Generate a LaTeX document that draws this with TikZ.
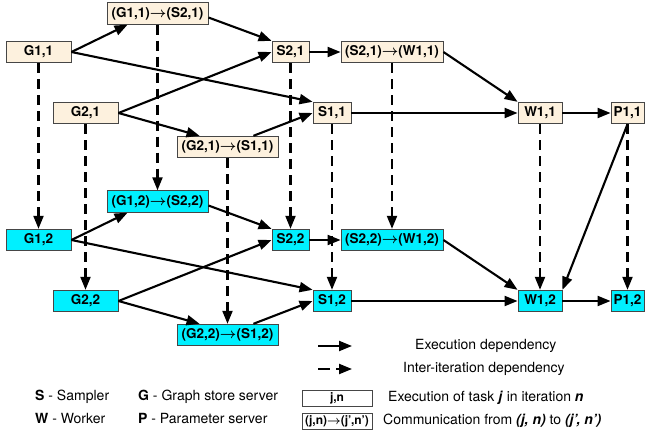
\documentclass[tikz,border=0pt]{standalone}
\usepackage{fontspec}
\setmainfont{TeX Gyre Heros}
\usetikzlibrary{arrows.meta}
\definecolor{cream}{RGB}{253,241,222}
\definecolor{aqua}{RGB}{0,240,255}
\definecolor{rim}{RGB}{70,70,70}

\begin{document}
\begin{tikzpicture}[x=1pt,y=-1pt]
    \tikzset{task/.style = {draw=rim,line width=0.9pt,inner sep=0pt,minimum height=21.5pt,font=\fontsize{13.5}{15}\selectfont\bfseries\boldmath},
      first/.style = {task,fill=cream}, second/.style = {task,fill=aqua},
      edge/.style = {line width=2.1pt,-{Triangle[length=13pt,width=10pt]}},
      iter/.style = {edge,dash pattern=on 10pt off 6pt},
      note/.style = {anchor=west,inner sep=0pt,font=\fontsize{14}{16}\selectfont},
      key/.style = {task,fill=white,minimum width=70pt,minimum height=16pt,font=\fontsize{12}{13}\selectfont\bfseries\boldmath}}
    \useasboundingbox (0,0) rectangle (645,438);
    \def\dy{188}
    % iteration 1
     \node[first,minimum width=65pt] (G11) at (38.5,52) {G1,1};
     \node[first,minimum width=65pt] (G21) at (85.5,113) {G2,1};
     \node[first,minimum width=101pt] (GS11) at (157.5,13.5) {(G1,1)$\rightarrow$(S2,1)};
     \node[first,minimum width=101pt] (GS21) at (227.5,147) {(G2,1)$\rightarrow$(S1,1)};
     \node[first,minimum width=37pt] (S21) at (290.5,52) {S2,1};
     \node[first,minimum width=38pt] (S11) at (332,113) {S1,1};
     \node[first,minimum width=102pt] (SW11) at (392,52) {(S2,1)$\rightarrow$(W1,1)};
     \node[first,minimum width=44pt] (W11) at (540,113) {W1,1};
     \node[first,minimum width=33pt] (P11) at (627.5,113) {P1,1};
    % iteration 2
     \node[second,minimum width=65pt] (G12) at (38.5,52+\dy) {G1,2};
     \node[second,minimum width=65pt] (G22) at (85.5,113+\dy) {G2,2};
     \node[second,minimum width=101pt] (GS12) at (157.5,13.5+\dy) {(G1,2)$\rightarrow$(S2,2)};
     \node[second,minimum width=101pt] (GS22) at (227.5,147+\dy) {(G2,2)$\rightarrow$(S1,2)};
     \node[second,minimum width=37pt] (S22) at (290.5,52+\dy) {S2,2};
     \node[second,minimum width=38pt] (S12) at (332,113+\dy) {S1,2};
     \node[second,minimum width=102pt] (SW12) at (392,52+\dy) {(S2,2)$\rightarrow$(W1,2)};
     \node[second,minimum width=44pt] (W12) at (540,113+\dy) {W1,2};
     \node[second,minimum width=33pt] (P12) at (627.5,113+\dy) {P1,2};

    \draw[edge](G11.east) -- ([xshift=21pt]GS11.south west);
    \draw[edge](G11.east) -- (S11.north west);
    \draw[edge]([yshift=-4pt]GS11.east) -- (S21.north west);
    \draw[edge](G21.east) -- (S21.west);
    \draw[edge](G21.east) -- ([xshift=23pt]GS21.north west);
    \draw[edge]([xshift=-25pt]GS21.north east) -- (S11.west);
    \draw[edge](S21) -- (SW11);
    \draw[edge](SW11.east) -- (W11.north west);
    \draw[edge](S11) -- (W11);
    \draw[edge](W11) -- (P11);
    \draw[edge](P11.south) -- (W12.north east);

    \draw[edge](G12.east) -- ([xshift=21pt]GS12.south west);
    \draw[edge](G12.east) -- (S12.north west);
    \draw[edge]([yshift=-4pt]GS12.east) -- (S22.north west);
    \draw[edge](G22.east) -- (S22.west);
    \draw[edge](G22.east) -- ([xshift=23pt]GS22.north west);
    \draw[edge]([xshift=-25pt]GS22.north east) -- (S12.west);
    \draw[edge](S22) -- (SW12);
    \draw[edge](SW12.east) -- (W12.north west);
    \draw[edge](S12) -- (W12);
    \draw[edge](W12) -- (P12);

    \draw[iter](G11) -- (G12);
    \draw[iter](G21) -- (G22);
    \draw[iter](GS11) -- (GS12);
    \draw[iter](GS21) -- (GS22);
    \draw[iter](S21) -- (S22);
    \draw[iter](S11) -- (S12);
    \draw[iter](SW11) -- (SW12);
    \draw[iter](W11) -- (W12);
    \draw[iter](P11) -- (P12);

    % legend
    \coordinate (ea) at (318,346);
    \coordinate (eb) at (352,346);
    \coordinate (ia) at (318,369);
    \coordinate (ib) at (352,369);
    \draw[edge](ea) -- (eb);
    \draw[iter,dash pattern=on 12pt off 6pt](ia) -- (ib);
    \node[note] (le) at (415,346) {Execution dependency};
    \node[note] (li) at (403,369) {Inter-iteration dependency};
    \node[key] (kt) at (337,398) {j,n};
    \node[key] (kc) at (337,421) {(j,n)$\rightarrow$(j',n')};
    \node[note] (lt) at (388,398) {Execution of task \textbf{\textit{j}} in iteration \textbf{\textit{n}}};
    \node[note] (lc) at (383,421) {Communication from \textbf{\textit{(j, n)}} to \textbf{\textit{(j', n')}}};
    \node[note] (ls) at (35,397) {\textbf{S} - Sampler};
    \node[note] (lw) at (35,419) {\textbf{W} - Worker};
    \node[note] (lg) at (138,397) {\textbf{G} - Graph store server};
    \node[note] (lp) at (138,419) {\textbf{P} - Parameter server};
\end{tikzpicture}
\end{document}
